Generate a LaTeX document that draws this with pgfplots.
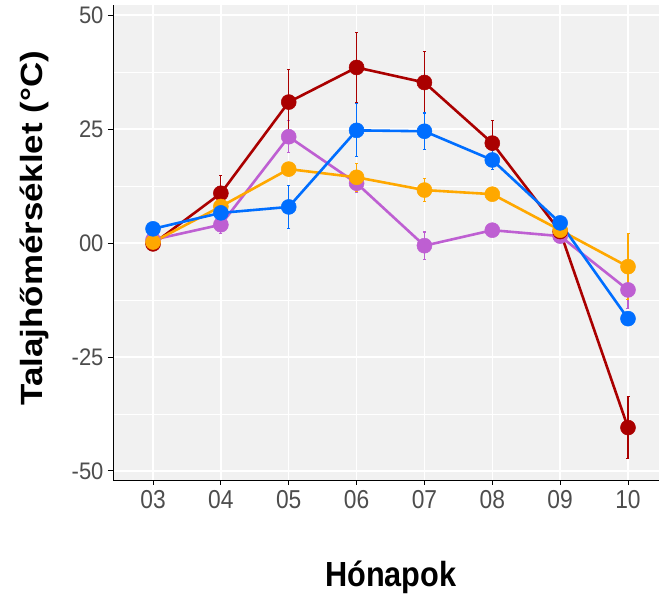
\documentclass[border=0pt]{standalone}
\usepackage{pgfplots}
\pgfplotsset{compat=1.18}
\usepackage{fontspec}
\setmainfont{Liberation Sans}
\definecolor{cred}{RGB}{170,0,0}
\definecolor{cblue}{RGB}{0,110,255}
\definecolor{corange}{RGB}{255,168,0}
\definecolor{cpurple}{RGB}{190,95,210}
\definecolor{panel}{RGB}{241,241,241}
\definecolor{ticktext}{RGB}{77,77,77}
\newcommand\sx[1]{\scalebox{0.88}[1]{#1}}
\newcommand\sy[1]{\scalebox{0.92}[1]{#1}}
\pgfplotsset{ser/.style={draw=#1, line width=2.6bp, mark=*, mark size=7.5bp,
  mark options={solid, fill=#1, draw=#1, line width=0.5bp},
  error bars/.cd, y dir=both, y explicit,
  error bar style={line width=1.1bp, #1}, error mark options={rotate=90, mark size=1.5bp, line width=1.1bp, #1}}}
\begin{document}
\begin{tikzpicture}
\begin{axis}[
  at={(113bp,118bp)}, anchor=south west,
  scale only axis, width=546bp, height=475bp,
  xmin=2.41, xmax=10.457, ymin=-5.2, ymax=5.22,
  axis background/.style={fill=panel},
  axis x line*=bottom, axis y line*=left,
  axis line style={black, line width=1bp, -},
  xtick={3,4,5,6,7,8,9,10},
  xticklabels={\sx{03},\sx{04},\sx{05},\sx{06},\sx{07},\sx{08},\sx{09},\sx{10}},
  ytick={-5,-2.5,0,2.5,5},
  yticklabels={\sy{-50},\sy{-25},\sy{00},\sy{25},\sy{50}},
  minor ytick={-3.75,-1.25,1.25,3.75},
  grid=both,
  major grid style={white, line width=1.3bp},
  minor grid style={white, line width=0.7bp},
  tick align=outside,
  major tick length=5bp, minor tick length=0pt,
  tick style={black, line width=0.8bp},
  xticklabel style={font=\fontsize{26}{26}\selectfont, text=ticktext, yshift=-2bp},
  yticklabel style={font=\fontsize{24}{24}\selectfont, text=ticktext, xshift=-1bp},
  xlabel={\sx{Hónapok}},
  ylabel={\scalebox{1}[0.88]{Talajhőmérséklet (°C)}},
  xlabel style={font=\fontsize{35}{35}\selectfont\bfseries, at={(axis description cs:0.509,-0.205)}, anchor=center},
  ylabel style={font=\fontsize{35}{35}\selectfont\bfseries, at={(axis description cs:-0.143,0.53)}, anchor=center, rotate=0},
  clip=false,
]
\addplot[ser=cpurple] coordinates {
 (3,0.07) +- (0,0.1)
 (4,0.40) +- (0,0.2)
 (5,2.33) +- (0,0.35)
 (6,1.31) +- (0,0.2)
 (7,-0.06) +- (0,0.3)
 (8,0.28) +- (0,0.1)
 (9,0.15) +- (0,0.1)
 (10,-1.03) +- (0,0.4)
};
\addplot[ser=cred] coordinates {
 (3,-0.02) +- (0,0.15)
 (4,1.09) +- (0,0.38)
 (5,3.09) +- (0,0.72)
 (6,3.85) +- (0,0.77)
 (7,3.52) +- (0,0.68)
 (8,2.19) +- (0,0.5)
 (9,0.25) +- (0,0.1)
 (10,-4.05) +- (0,0.68)
};
\addplot[ser=corange] coordinates {
 (3,0.02) +- (0,0.15)
 (4,0.80) +- (0,0.2)
 (5,1.62) +- (0,0.1)
 (6,1.44) +- (0,0.3)
 (7,1.16) +- (0,0.25)
 (8,1.07) +- (0,0.1)
 (9,0.28) +- (0,0.1)
 (10,-0.52) +- (0,0.72)
};
\addplot[ser=cblue] coordinates {
 (3,0.31) +- (0,0.1)
 (4,0.66) +- (0,0.25)
 (5,0.79) +- (0,0.48)
 (6,2.47) +- (0,0.58)
 (7,2.45) +- (0,0.4)
 (8,1.82) +- (0,0.2)
 (9,0.44) +- (0,0.1)
 (10,-1.66) +- (0,0.1)
};
\end{axis}
\pgfresetboundingbox
\path (0,0) rectangle (659bp,598bp);
\end{tikzpicture}
\end{document}
